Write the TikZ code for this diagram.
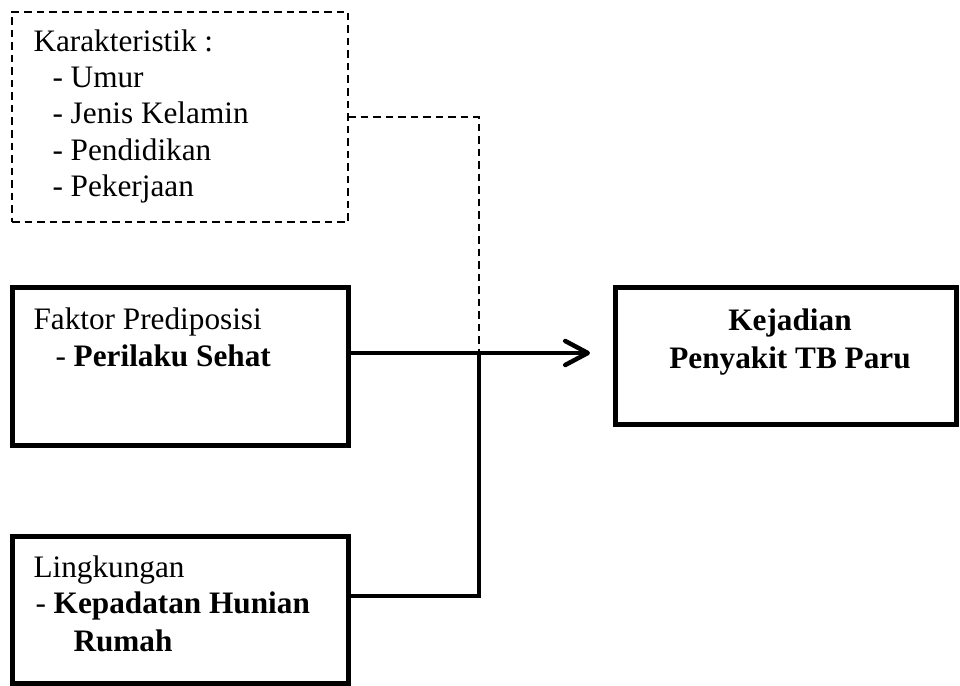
\documentclass[tikz,border=0pt]{standalone}
\usepackage{fontspec}
\setmainfont{Liberation Serif}
\usetikzlibrary{arrows.meta}
\begin{document}
\begin{tikzpicture}[x=0.4pt,y=-0.4pt,
  box/.style={draw, line width=2pt, anchor=north west, outer sep=0pt, inner sep=0pt},
  dbox/.style={draw, line width=0.8pt, dash pattern=on 3pt off 2pt, anchor=north west, outer sep=0pt, inner sep=0pt},
  txt/.style={anchor=base west, inner sep=0pt, font=\fontsize{12.5}{15}\selectfont},
  ctxt/.style={anchor=base, inner sep=0pt, font=\fontsize{12.5}{15}\selectfont\bfseries},
  conn/.style={line width=1.8pt},
  dconn/.style={line width=0.8pt, dash pattern=on 3pt off 2pt}
]
\useasboundingbox (0,0) rectangle (960,686);
% boxes
\node[dbox, minimum width=134.4pt, minimum height=84pt] (kbox) at (12,12) {};
\node[box, minimum width=134.4pt, minimum height=63.2pt] (fbox) at (12,287) {};
\node[box, minimum width=134.4pt, minimum height=58.8pt] (lbox) at (12,536) {};
\node[box, minimum width=136.4pt, minimum height=54.8pt] (tbox) at (615,287) {};
% texts
\node[txt] (k0) at (33,52) {Karakteristik :};
\node[txt] (k1) at (52,88) {- Umur};
\node[txt] (k2) at (52,124) {- Jenis Kelamin};
\node[txt] (k3) at (52,161) {- Pendidikan};
\node[txt] (k4) at (52,197) {- Pekerjaan};
\node[txt] (f0) at (33,329) {Faktor Prediposisi};
\node[txt] (f1) at (55,366) {- \textbf{Perilaku Sehat}};
\node[txt] (l0) at (33,577) {Lingkungan};
\node[txt] (l1) at (35,613) {- \textbf{Kepadatan Hunian}};
\node[txt] (l2) at (73,651) {\textbf{Rumah}};
\node[ctxt] (t0) at (790,330) {Kejadian};
\node[ctxt] (t1) at (790,368) {Penyakit TB Paru};
% connectors
\coordinate (j1) at (479,353);
\coordinate (j2) at (479,596);
\coordinate (d1) at (479,117);
\coordinate (tip) at (590,353);
\draw[dconn] (kbox.east |- d1) -- (d1) -- (j1);
\draw[conn, -{Straight Barb[length=9pt,width=9.6pt,round]}] (fbox.east |- j1) -- (tip);
\draw[conn] (lbox.east |- j2) -- (j2) -- (j1);
\end{tikzpicture}
\end{document}
